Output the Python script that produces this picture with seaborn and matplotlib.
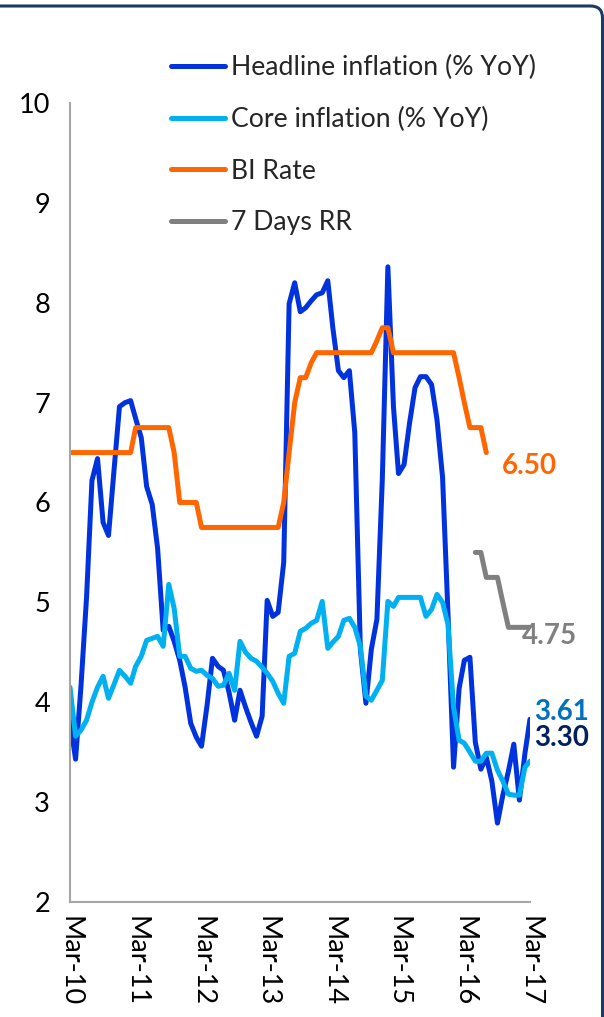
import numpy as np
import pandas as pd
import matplotlib
matplotlib.use("Agg")
import matplotlib.pyplot as plt
import seaborn as sns
from matplotlib.patches import FancyBboxPatch
from matplotlib.lines import Line2D
from matplotlib.transforms import IdentityTransform

# ---------------- data ----------------
months = pd.date_range("2010-03-01", periods=85, freq="MS")

headline = [3.81, 3.43, 4.16, 5.05, 6.22, 6.44, 5.80, 5.67, 6.33, 6.96,
            7.00, 7.02, 6.84, 6.65, 6.16, 5.98, 5.54, 4.72, 4.76, 4.61,
            4.42, 4.15, 3.79, 3.65, 3.56, 3.97, 4.44, 4.36, 4.32, 4.10,
            3.82, 4.12, 3.95, 3.80, 3.66, 3.86, 5.02, 4.86, 4.90, 5.40,
            7.99, 8.20, 7.91, 7.95, 8.02, 8.08, 8.10, 8.22, 7.75, 7.32,
            7.25, 7.32, 6.70, 4.53, 3.99, 4.53, 4.83, 6.23, 8.36, 6.96,
            6.29, 6.38, 6.79, 7.15, 7.26, 7.26, 7.18, 6.83, 6.25, 4.89,
            3.35, 4.14, 4.42, 4.45, 3.60, 3.33, 3.45, 3.21, 2.79, 3.07,
            3.31, 3.58, 3.02, 3.49, 3.83]

core = [4.15, 3.66, 3.72, 3.82, 4.00, 4.15, 4.26, 4.04, 4.18, 4.32,
        4.26, 4.19, 4.36, 4.46, 4.62, 4.64, 4.66, 4.56, 5.18, 4.94,
        4.46, 4.46, 4.34, 4.31, 4.32, 4.27, 4.24, 4.16, 4.17, 4.29,
        4.12, 4.61, 4.50, 4.44, 4.41, 4.35, 4.29, 4.21, 4.09, 3.99,
        4.46, 4.49, 4.71, 4.74, 4.79, 4.82, 5.01, 4.54, 4.60, 4.66,
        4.82, 4.84, 4.75, 4.56, 4.06, 4.02, 4.12, 4.22, 5.01, 4.96,
        5.05, 5.05, 5.05, 5.05, 5.05, 4.86, 4.93, 5.08, 5.00, 4.78,
        3.95, 3.62, 3.59, 3.50, 3.41, 3.41, 3.49, 3.49, 3.32, 3.21,
        3.08, 3.07, 3.07, 3.35, 3.41]

bi_rate = ([6.50] * 12 + [6.75] * 7 + [6.50] + [6.00] * 4 + [5.75] * 15 +
           [6.00, 6.50, 7.00, 7.25, 7.25, 7.40] + [7.50] * 11 +
           [7.62, 7.75, 7.75] + [7.50] * 12 + [7.25, 7.00, 6.75, 6.75, 6.75, 6.50])

rr7 = [5.50, 5.50, 5.25, 5.25, 5.25, 5.00, 4.75, 4.75, 4.75, 4.75, 4.75]

series_names = ["Headline inflation (% YoY)", "Core inflation (% YoY)", "BI Rate", "7 Days RR"]
series_colors = ["#0033DD", "#00B0F0", "#FF6600", "#808080"]

end_labels = ["6.50", "4.75", "3.61", "3.30"]
end_label_colors = ["#FF6600", "#808080", "#0070C0", "#002060"]

yticks = [2, 3, 4, 5, 6, 7, 8, 9, 10]
xtick_dates = pd.date_range("2010-03-01", "2017-03-01", freq="12MS")

# ---------------- figure ----------------
sns.set_style("white")
plt.rcParams["font.family"] = ["Lato", "DejaVu Sans"]

W, H = 604, 1017
fig = plt.figure(figsize=(W / 100, H / 100), dpi=100)
ax = fig.add_axes([70 / W, 1 - 902 / H, 460 / W, 799 / H])

lw = 3.6
kw = dict(ax=ax, linewidth=lw, legend=False, solid_capstyle="round", solid_joinstyle="round")
sns.lineplot(x=months, y=headline, color=series_colors[0], **kw)
sns.lineplot(x=months, y=core, color=series_colors[1], **kw)
sns.lineplot(x=months[:len(bi_rate)], y=bi_rate, color=series_colors[2], **kw)
sns.lineplot(x=months[len(months) - len(rr7):], y=rr7, color=series_colors[3], **kw)

ax.set_ylim(2, 10)
ax.set_xlim(months[0], months[-1])
ax.set_yticks(yticks)
ax.set_yticklabels([str(v) for v in yticks])
ax.set_xticks(xtick_dates)
ax.set_xticklabels([d.strftime("%b-%y") for d in xtick_dates], rotation=270)
ax.set_xlabel("")
ax.set_ylabel("")

for s in ["top", "right"]:
    ax.spines[s].set_visible(False)
for s in ["left", "bottom"]:
    ax.spines[s].set_color("#A6A6A6")
    ax.spines[s].set_linewidth(1.5)
ax.tick_params(axis="both", direction="out", length=5.8, width=1.5,
               color="#A6A6A6", labelsize=19.5, labelcolor="black")
ax.tick_params(axis="y", pad=8.5)
ax.tick_params(axis="x", pad=4.5)
for lab in ax.get_xticklabels():
    lab.set_va("top")
    lab.set_ha("center")

# end labels
anchors = [(months[len(bi_rate) - 1], bi_rate[-1], 11.2, -9.7),
           (months[-1], rr7[-1], -6.0, -6.0),
           (months[-1], headline[-1], 2.7, 5.0),
           (months[-1], headline[-1], 2.7, -13.5)]
for (xd, yd, dx, dy), txt, col in zip(anchors, end_labels, end_label_colors):
    ax.annotate(txt, xy=(xd, yd), xytext=(dx, dy), textcoords="offset points",
                ha="left", va="center", fontsize=20, fontweight="bold", color=col)

# legend
handles = [Line2D([0], [0], color=c, lw=lw, solid_capstyle="round") for c in series_colors]
fig.legend(handles, series_names, loc="upper left", bbox_to_anchor=(171 / W, 1 - 55 / H),
           frameon=False, fontsize=19.2, handlelength=2.02, handletextpad=0.22,
           labelspacing=1.0, borderpad=0, borderaxespad=0)

# outer rounded frame (partially outside the canvas)
frame = FancyBboxPatch((-30, -30), 632.5, H - 6 + 30, boxstyle="round,pad=0,rounding_size=12",
                       transform=IdentityTransform(), fill=False,
                       edgecolor="#1B3A66", linewidth=2.2, clip_on=False)
fig.patches.append(frame)

fig.savefig("out.png", dpi=100, facecolor="white")
